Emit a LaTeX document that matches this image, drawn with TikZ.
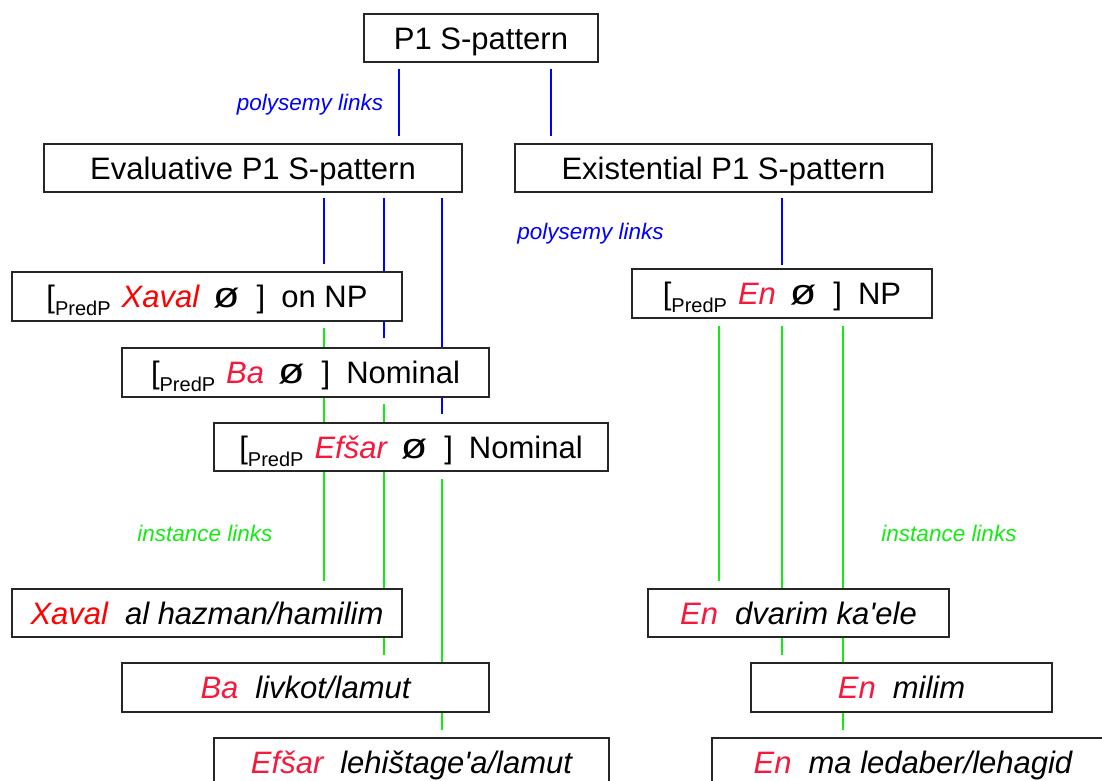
\documentclass[tikz,border=0pt]{standalone}
\usepackage{fontspec}
\setmainfont{Liberation Sans}[Ligatures=TeXOff]
\usetikzlibrary{calc,backgrounds}
\definecolor{xred}{RGB}{255,0,0}
\definecolor{cred}{RGB}{245,25,60}
\definecolor{lgreen}{RGB}{20,235,20}
\definecolor{lblue}{RGB}{0,0,255}
\newcommand\bigfont{\fontsize{31}{37}\selectfont}
\newcommand\pred[3]{[\raisebox{-8pt}{\fontsize{20}{20}\selectfont PredP}\hspace{11pt}\textcolor{#1}{\itshape #2}\hspace{14pt}\scalebox{1.4}[1.15]{ø}\hspace{17pt}]\hspace{16pt}#3}
\newcommand\inst[3]{\itshape\textcolor{#1}{#2}\hspace{17pt}#3}
\begin{document}
\begin{tikzpicture}[x=1pt,y=-1pt,
  box/.style={draw=black!85,line width=1.3pt,fill=white,inner sep=0pt,minimum height=48pt,
    text height=22.5pt,text depth=0pt,font=\bigfont,anchor=center},
  plink/.style={lblue,line width=2pt},
  ilink/.style={lgreen,line width=2pt},
  lab/.style={font=\fontsize{22.5}{27}\selectfont\itshape,anchor=base,inner sep=0pt}]
\path[use as bounding box] (0,0) rectangle (1102,780);
\clip (0,0) rectangle (1102,780);
% boxes
\node[box,minimum width=234pt] (p1) at (481,38) {P1 S-pattern};
\node[box,minimum width=418pt] (ev) at (253,168) {Evaluative P1 S-pattern};
\node[box,minimum width=417pt] (ex) at (723.5,168) {Existential P1 S-pattern};
\node[box,minimum width=390pt,minimum height=49pt] (xp) at (207,296.5) {\pred{xred}{Xaval}{on NP}};
\node[box,minimum width=367pt,minimum height=49pt] (bp) at (305.5,372.5) {\pred{cred}{Ba}{Nominal}};
\node[box,minimum width=394pt] (ep) at (411,447) {\pred{cred}{Efšar}{Nominal}};
\node[box,minimum width=300pt,minimum height=49pt] (np) at (782,293.5) {\pred{cred}{En}{NP}};
\node[box,minimum width=390pt] (xi) at (207,613) {\inst{xred}{Xaval}{al hazman/hamilim}};
\node[box,minimum width=367pt,minimum height=49pt] (bi) at (305.5,687.5) {\inst{cred}{Ba}{livkot/lamut}};
\node[box,minimum width=395pt] (ei) at (411.5,762) {\inst{cred}{Efšar}{lehištage'a/lamut}};
\node[box,minimum width=301pt] (di) at (798.5,613) {\inst{cred}{En}{dvarim ka'ele}};
\node[box,minimum width=301pt,minimum height=49pt] (mi) at (901.5,687.5) {\inst{cred}{En}{milim}};
\node[box,minimum width=402pt] (mai) at (913,762) {\inst{cred}{En}{ma ledaber/lehagid}};
% labels
\node[lab,lblue] (l1) at (310,110) {polysemy links};
\node[lab,lblue] (l2) at (590.5,239) {polysemy links};
\node[lab,lgreen] (l3) at (205,541) {instance links};
\node[lab,lgreen] (l4) at (949,541) {instance links};
% x positions of connectors
\coordinate (ca) at (399,0);
\coordinate (cb) at (551,0);
\coordinate (cc) at (324,0);
\coordinate (cd) at (384,0);
\coordinate (ce) at (442,0);
\coordinate (cf) at (782,0);
\coordinate (cg) at (719,0);
\coordinate (ch) at (843,0);
\begin{pgfonlayer}{background}
\fill[white] (0,0) rectangle (1102,780);
\draw[plink] ($(p1.south -| ca)+(0,6)$) -- ($(ev.north -| ca)+(0,-7)$);
\draw[plink] ($(p1.south -| cb)+(0,6)$) -- ($(ex.north -| cb)+(0,-7)$);
\draw[plink] ($(ev.south -| cc)+(0,5)$) -- ($(xp.north -| cc)+(0,-7)$);
\draw[plink] ($(ev.south -| cd)+(0,5)$) -- ($(bp.north -| cd)+(0,-9)$);
\draw[plink] ($(ev.south -| ce)+(0,5)$) -- ($(ep.north -| ce)+(0,-8)$);
\draw[plink] ($(ex.south -| cf)+(0,5)$) -- ($(np.north -| cf)+(0,-3)$);
\draw[ilink] ($(xp.south -| cc)+(0,6)$) -- ($(xi.north -| cc)+(0,-7)$);
\draw[ilink] ($(bp.south -| cd)+(0,6)$) -- ($(bi.north -| cd)+(0,-7)$);
\draw[ilink] ($(ep.south -| ce)+(0,7)$) -- ($(ei.north -| ce)+(0,-7)$);
\draw[ilink] ($(np.south -| cg)+(0,7)$) -- ($(di.north -| cg)+(0,-7)$);
\draw[ilink] ($(np.south -| cf)+(0,7)$) -- ($(mi.north -| cf)+(0,-7)$);
\draw[ilink] ($(np.south -| ch)+(0,7)$) -- ($(mai.north -| ch)+(0,-7)$);
\end{pgfonlayer}
\end{tikzpicture}
\end{document}
